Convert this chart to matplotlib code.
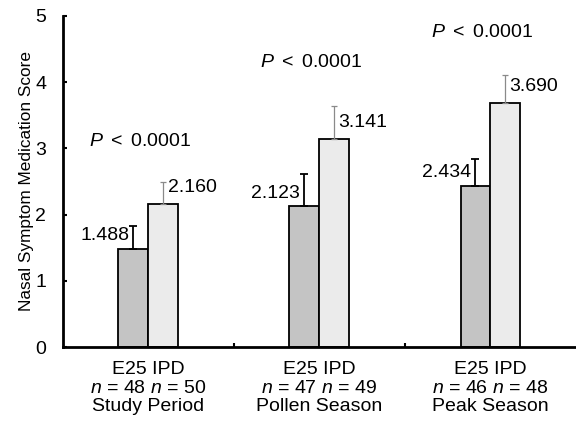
import matplotlib
matplotlib.use("Agg")
import matplotlib.pyplot as plt
import numpy as np

plt.rcParams['font.family'] = ['Liberation Sans', 'DejaVu Sans']
plt.rcParams['mathtext.fontset'] = 'custom'
plt.rcParams['mathtext.it'] = 'Liberation Sans:italic'
plt.rcParams['mathtext.rm'] = 'Liberation Sans'

periods = ["Study Period", "Pollen Season", "Peak Season"]
e25_means = [1.488, 2.123, 2.434]
ipd_means = [2.160, 3.141, 3.690]
e25_err = [0.34, 0.49, 0.41]
ipd_err = [0.33, 0.50, 0.42]
e25_n = [48, 47, 46]
ipd_n = [50, 49, 48]
p_heights = [3.1, 4.3, 4.75]

fig = plt.figure(figsize=(5.76, 4.25), dpi=100)
ax = fig.add_axes([0.109, 0.183, 0.891, 0.78])

x = np.arange(len(periods))
w = 0.175
ax.bar(x - w/2, e25_means, w, color='#c4c4c4', edgecolor='black', linewidth=1.3, zorder=2)
ax.bar(x + w/2, ipd_means, w, color='#ebebeb', edgecolor='black', linewidth=1.3, zorder=2)
ax.errorbar(x - w/2, e25_means, yerr=[np.zeros(3), e25_err], fmt='none',
            ecolor='black', elinewidth=1.3, capsize=3, capthick=1.3, zorder=3)
ax.errorbar(x + w/2, ipd_means, yerr=[np.zeros(3), ipd_err], fmt='none',
            ecolor='#8a8a8a', elinewidth=0.9, capsize=2, capthick=0.9,
            linestyle=':', zorder=3)

for i in range(3):
    ax.text(x[i] - w/2 - 0.025, e25_means[i] + 0.2, f"{e25_means[i]:.3f}",
            ha='right', va='center', fontsize=14)
    ax.text(x[i] + w/2 + 0.025, ipd_means[i] + 0.25, f"{ipd_means[i]:.3f}",
            ha='left', va='center', fontsize=14)
    ax.text(x[i] - 0.05, p_heights[i], "$P$ $<$ 0.0001", ha='center', va='center', fontsize=14)

ax.set_xlim(-0.5, 2.5)
ax.set_ylim(0, 5)
ax.set_yticks([0, 1, 2, 3, 4, 5])
ax.tick_params(axis='y', direction='in', length=3, width=1.5, labelsize=14, pad=12)
ax.set_xticks(x)
ax.set_xticklabels([f"E25 IPD\n$n$ = {a} $n$ = {b}\n{p}" for a, b, p in zip(e25_n, ipd_n, periods)],
                   fontsize=14, linespacing=1.12)
ax.set_xticks([0.5, 1.5], minor=True)
ax.tick_params(axis='x', which='major', length=0, pad=10)
ax.tick_params(axis='x', which='minor', direction='in', length=3, width=1.5)
ax.set_ylabel("Nasal Symptom Medication Score", fontsize=12.4, labelpad=1)
for s in ['top', 'right']:
    ax.spines[s].set_visible(False)
ax.spines['left'].set_linewidth(2)
ax.spines['bottom'].set_linewidth(2)

fig.savefig("out.png", dpi=100)
